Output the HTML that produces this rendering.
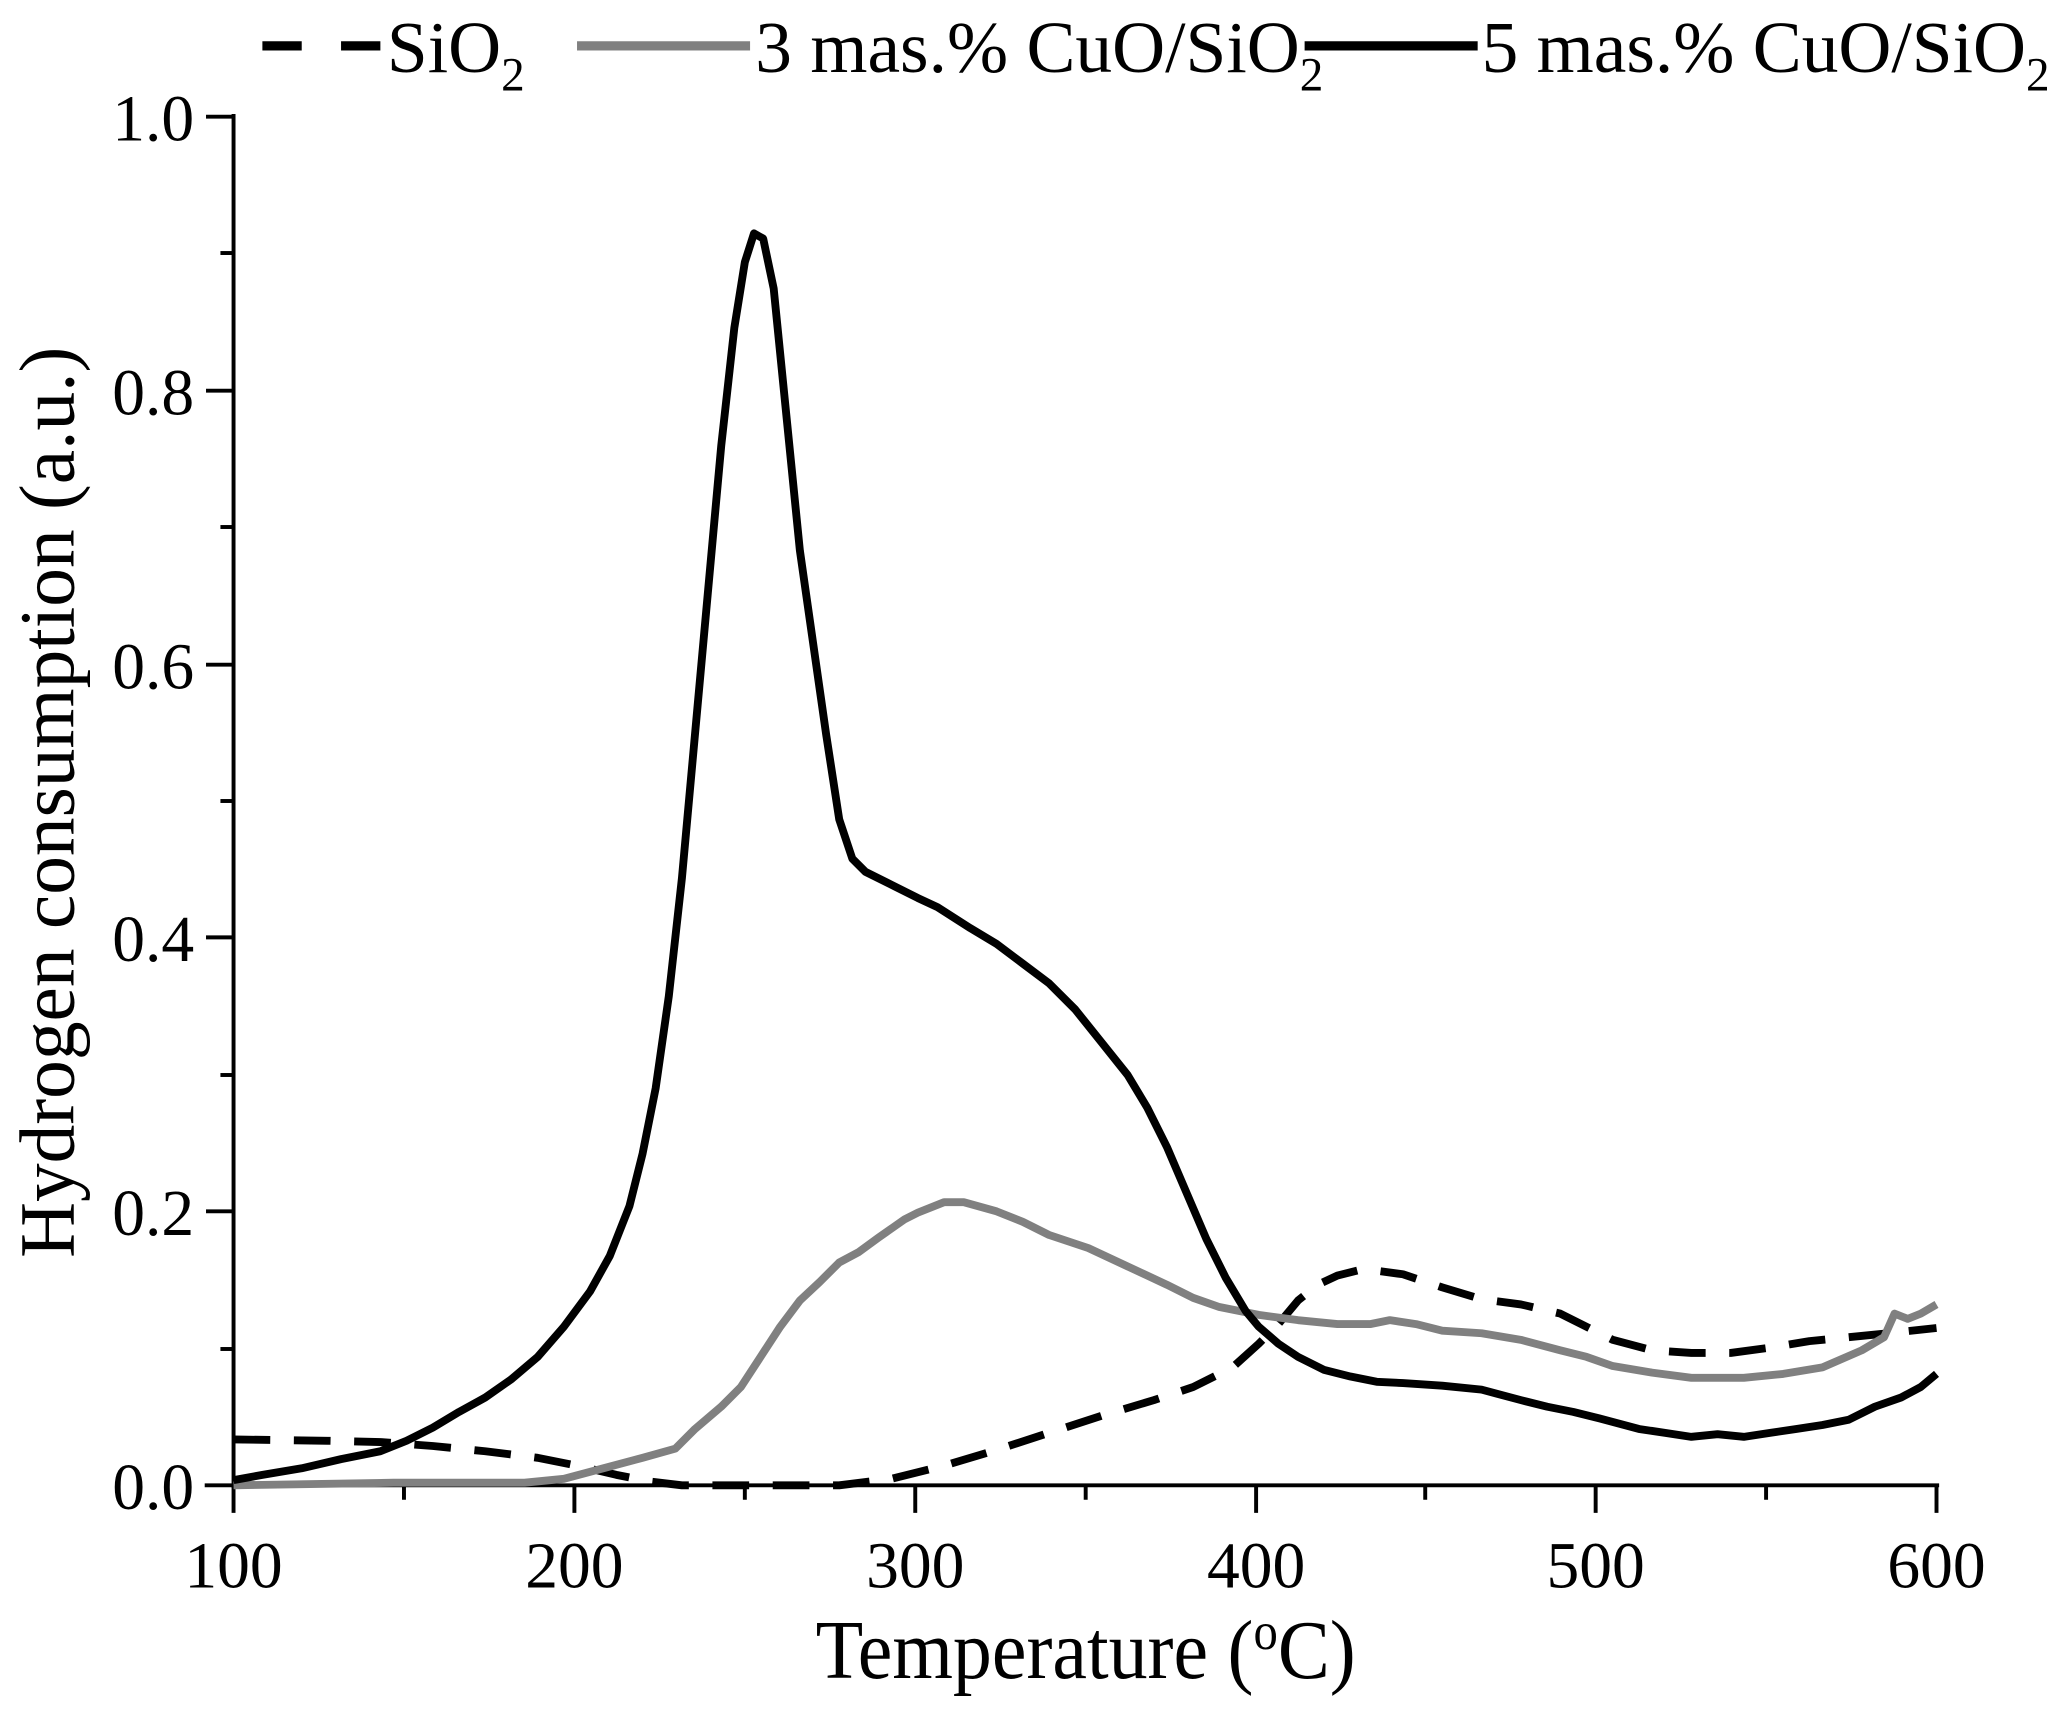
<!DOCTYPE html>
<html><head><meta charset="utf-8"><style>html,body{margin:0;padding:0;background:#fff}svg{display:block}text{font-family:"Liberation Serif",serif;fill:#000}</style></head>
<body>
<svg width="2056" height="1720" viewBox="0 0 1568 1312" xmlns="http://www.w3.org/2000/svg">
<g stroke="#000" stroke-width="3" fill="none">
<line x1="178" y1="87" x2="178" y2="1135"/>
<line x1="156" y1="1133" x2="1479" y2="1133"/>
<line x1="178" y1="1133" x2="178" y2="1154"/><line x1="438" y1="1133" x2="438" y2="1154"/><line x1="698" y1="1133" x2="698" y2="1154"/><line x1="958" y1="1133" x2="958" y2="1154"/><line x1="1217" y1="1133" x2="1217" y2="1154"/><line x1="1477" y1="1133" x2="1477" y2="1154"/>
<line x1="308" y1="1133" x2="308" y2="1144"/><line x1="568" y1="1133" x2="568" y2="1144"/><line x1="828" y1="1133" x2="828" y2="1144"/><line x1="1087" y1="1133" x2="1087" y2="1144"/><line x1="1347" y1="1133" x2="1347" y2="1144"/>
<line x1="157" y1="89" x2="178" y2="89"/><line x1="157" y1="298" x2="178" y2="298"/><line x1="157" y1="507" x2="178" y2="507"/><line x1="157" y1="715" x2="178" y2="715"/><line x1="157" y1="924" x2="178" y2="924"/>
<line x1="168" y1="193" x2="178" y2="193"/><line x1="168" y1="402" x2="178" y2="402"/><line x1="168" y1="611" x2="178" y2="611"/><line x1="168" y1="820" x2="178" y2="820"/><line x1="168" y1="1029" x2="178" y2="1029"/>
</g>
<g font-size="50" text-anchor="end">
<text x="148" y="1151">0.0</text><text x="148" y="942">0.2</text><text x="148" y="733">0.4</text><text x="148" y="525">0.6</text><text x="148" y="316">0.8</text><text x="148" y="107">1.0</text>
</g>
<g font-size="50" text-anchor="middle">
<text x="178" y="1211">100</text><text x="438" y="1211">200</text><text x="698" y="1211">300</text><text x="958" y="1211">400</text><text x="1217" y="1211">500</text><text x="1477" y="1211">600</text>
</g>
<text x="828" y="1280" font-size="64" text-anchor="middle" textLength="412" lengthAdjust="spacingAndGlyphs">Temperature (<tspan font-size="40" dy="-22">o</tspan><tspan dy="22">C)</tspan></text>
<text transform="translate(56,612) rotate(-90)" font-size="60" text-anchor="middle" textLength="695" lengthAdjust="spacingAndGlyphs">Hydrogen consumption (a.u.)</text>
<g fill="none" stroke-linejoin="round" stroke-linecap="butt">
<polyline stroke="#000" stroke-width="6" stroke-dasharray="28,18" points="178,1098 250,1099 290,1100 330,1103 370,1107 410,1112 440,1118 470,1125 495,1130 520,1133 640,1133 680,1128 720,1118 760,1106 800,1093 840,1080 880,1068 910,1058 940,1043 960,1025 975,1010 990,992 1005,980 1020,973 1040,968 1070,972 1100,982 1130,991 1160,995 1190,1002 1210,1012 1230,1022 1260,1030 1290,1032 1320,1032 1350,1028 1380,1023 1410,1020 1440,1017 1477,1013"/>
<polyline stroke="#808080" stroke-width="6" points="178,1133 300,1131 400,1131 430,1128 460,1120 490,1112 515,1105 530,1090 550,1073 565,1058 580,1035 595,1012 610,992 625,978 640,963 655,955 670,944 690,930 700,925 720,917 735,917 760,924 780,932 800,942 830,952 860,966 890,980 910,990 930,997 960,1003 990,1007 1020,1010 1045,1010 1060,1007 1080,1010 1100,1015 1130,1017 1160,1022 1190,1030 1210,1035 1230,1042 1260,1047 1290,1051 1310,1051 1330,1051 1360,1048 1390,1043 1420,1030 1437,1020 1445,1002 1455,1006 1465,1002 1477,995"/>
<polyline stroke="#000" stroke-width="6" points="178,1129 200,1125 230,1120 260,1113 290,1107 310,1099 330,1089 350,1077 370,1066 390,1052 410,1035 430,1012 450,985 465,958 480,920 490,880 500,830 510,760 520,670 530,560 540,450 550,340 560,250 568,200 575,178 582,182 590,220 600,320 610,420 620,490 630,560 640,625 650,655 660,665 680,675 700,685 715,692 740,708 760,720 780,735 800,750 820,770 840,795 860,820 875,845 890,875 905,910 920,945 935,975 950,1000 960,1012 975,1025 990,1035 1010,1045 1030,1050 1050,1054 1070,1055 1100,1057 1130,1060 1160,1068 1180,1073 1200,1077 1220,1082 1250,1090 1270,1093 1290,1096 1310,1094 1330,1096 1350,1093 1370,1090 1390,1087 1410,1083 1430,1073 1450,1066 1465,1058 1477,1048"/>
<line x1="200" y1="35" x2="290" y2="35" stroke="#000" stroke-width="7" stroke-dasharray="30,30"/>
<line x1="440" y1="35" x2="572" y2="35" stroke="#808080" stroke-width="7"/>
<line x1="995" y1="35" x2="1127" y2="35" stroke="#000" stroke-width="7"/>
</g>
<g font-size="56">
<text x="295" y="55">SiO<tspan font-size="36" dy="14">2</tspan></text>
<text x="576" y="55">3 mas.% CuO/SiO<tspan font-size="36" dy="14">2</tspan></text>
<text x="1130" y="55">5 mas.% CuO/SiO<tspan font-size="36" dy="14">2</tspan></text>
</g>
</svg>
</body></html>
